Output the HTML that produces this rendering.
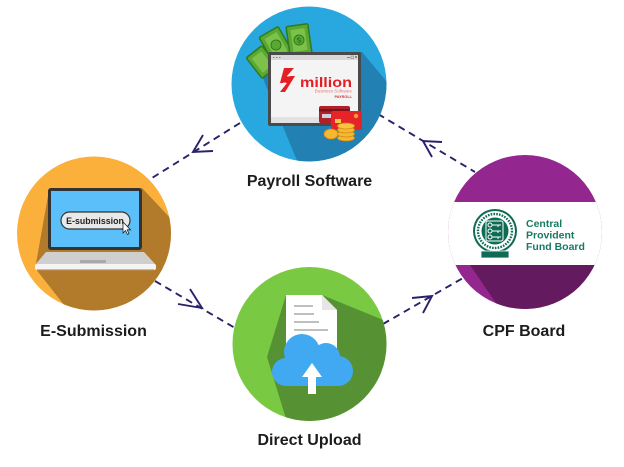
<!DOCTYPE html>
<html><head><meta charset="utf-8"><style>
html,body{margin:0;padding:0;background:#fff;}
svg{display:block;}
text{font-family:"Liberation Sans",Arial,sans-serif;}
</style></head><body>
<svg width="624" height="467" viewBox="0 0 624 467" xmlns="http://www.w3.org/2000/svg">
<defs>
<clipPath id="cP"><circle cx="309" cy="84" r="77.5"/></clipPath>
<clipPath id="cE"><circle cx="94" cy="233.5" r="77"/></clipPath>
<clipPath id="cC"><circle cx="525" cy="232" r="77"/></clipPath>
<clipPath id="cD"><circle cx="309.5" cy="344" r="77"/></clipPath>
</defs>

<!-- connectors -->
<g stroke="#27226b" stroke-width="1.9" fill="none" stroke-linecap="butt">
<line x1="240" y1="123" x2="152" y2="178" stroke-dasharray="7 5"/>
<polyline points="203,135 193,152 213,151" stroke-linejoin="miter"/>
<line x1="378" y1="114" x2="475" y2="172" stroke-dasharray="7 5"/>
<polyline points="442,142 423,141 432,157"/>
<line x1="155" y1="281" x2="235" y2="328" stroke-dasharray="7 5"/>
<polyline points="190,289 202,308 178,304"/>
<line x1="383" y1="324" x2="463" y2="278" stroke-dasharray="7 5"/>
<polyline points="412,298 432,296 423,313"/>
</g>

<!-- Payroll circle -->
<circle cx="309" cy="84" r="77.5" fill="#29a8df"/>
<g clip-path="url(#cP)">
<polygon points="252,52 362,52 392,88 392,175 303,175" fill="#2280b3"/>
</g>
<!-- bills -->
<g>
<g transform="translate(262,62) rotate(-38)">
<rect x="-10" y="-13" width="20" height="26" rx="1.5" fill="#5aa832" stroke="#2f7a1d" stroke-width="1.5"/>
<rect x="-6" y="-9" width="12" height="18" fill="#7cc24a"/>
</g>
<g transform="translate(276,45) rotate(-30)">
<rect x="-11" y="-15" width="22" height="30" rx="1.5" fill="#5aa832" stroke="#2f7a1d" stroke-width="1.5"/>
<rect x="-7" y="-11" width="14" height="22" fill="#7cc24a"/>
<circle cx="0" cy="0" r="5" fill="#5aa832" stroke="#2f7a1d" stroke-width="1"/>
</g>
<g transform="translate(299,40) rotate(-8)">
<rect x="-11" y="-15" width="22" height="30" rx="1.5" fill="#5aa832" stroke="#2f7a1d" stroke-width="1.5"/>
<rect x="-7" y="-11" width="14" height="22" fill="#7cc24a"/>
<circle cx="0" cy="0" r="5" fill="#5aa832" stroke="#2f7a1d" stroke-width="1"/>
<text x="0" y="3" font-size="8" font-weight="bold" fill="#2f7a1d" text-anchor="middle">$</text>
</g>
</g>
<!-- window -->
<rect x="268" y="52" width="93" height="74" rx="2" fill="#4a4a4a"/>
<rect x="271" y="55" width="87" height="68" fill="#f4f4f4"/>
<rect x="271" y="55" width="87" height="5" fill="#d9d9d9"/>
<g fill="#888"><rect x="273" y="57" width="1.5" height="1"/><rect x="276" y="57" width="1.5" height="1"/><rect x="279" y="57" width="1.5" height="1"/>
<rect x="347" y="57" width="3" height="1"/><rect x="351" y="56" width="2.5" height="2.5" fill="none" stroke="#888" stroke-width="0.6"/><rect x="355" y="56" width="2" height="2"/></g>
<rect x="271" y="117" width="87" height="6" fill="#e2e2e2"/>
<path d="M284,68 L294,68 L287,76 L295,76 L285,92 L280,92 L287,83 L280,83 Z" fill="#e31e24"/>
<path d="M287,76 L290,76 M283,83 L286,83" stroke="#fff" stroke-width="0.8"/>
<text x="300" y="87" font-size="14" font-weight="bold" fill="#e31e24" textLength="52" lengthAdjust="spacingAndGlyphs">million</text>
<text x="352" y="92.5" font-size="4.5" fill="#e87a7a" text-anchor="end">Business Software</text>
<text x="352" y="98" font-size="3.8" font-weight="bold" fill="#c53a3a" text-anchor="end">PAYROLL</text>
<!-- cards -->
<rect x="319" y="106" width="31" height="17" rx="2" fill="#b0202a"/>
<rect x="319" y="109" width="31" height="2.5" fill="#7a1218"/>
<rect x="322" y="114" width="12" height="4" fill="#c9d3e0"/>
<rect x="331" y="111" width="31" height="19" rx="2" fill="#e52329"/>
<rect x="335" y="119" width="6" height="4" fill="#f7c843"/>
<circle cx="356" cy="116" r="2.2" fill="#f7a030"/>
<!-- coins -->
<g stroke="#d08a16" stroke-width="0.8">
<ellipse cx="331" cy="134" rx="7" ry="5" fill="#f6b830"/>
<ellipse cx="346" cy="138" rx="8.5" ry="3" fill="#f6b830"/>
<ellipse cx="346" cy="134" rx="8.5" ry="3" fill="#f6b830"/>
<ellipse cx="346" cy="130" rx="8.5" ry="3" fill="#f6b830"/>
<ellipse cx="346" cy="126" rx="8.5" ry="3" fill="#f8c440"/>
</g>

<!-- E-Submission circle -->
<circle cx="94" cy="233.5" r="77" fill="#fbb03b"/>
<g clip-path="url(#cE)">
<polygon points="49,190 142,188 174,222 174,322 68,310 35,268 37,258" fill="#b27b2c"/>
</g>
<rect x="48" y="188" width="94" height="62" rx="3" fill="#333"/>
<rect x="51" y="191" width="88" height="56" fill="#5bc0fa"/>
<rect x="61" y="212" width="69" height="17" rx="8.5" fill="#e9e9e9" stroke="#333" stroke-width="1.2"/>
<text x="95" y="224" font-size="8.8" font-weight="bold" fill="#222" text-anchor="middle">E-submission</text>
<path d="M123,222 L123,233 L125.5,230.5 L127.5,234.5 L129,233.8 L127.2,229.8 L130.5,229.8 Z" fill="#fff" stroke="#222" stroke-width="0.8"/>
<polygon points="46,252 144,252 156,265 35,265" fill="#cfcfcf"/>
<rect x="80" y="260" width="26" height="3" fill="#aaa"/>
<rect x="35" y="264" width="121" height="6" rx="2" fill="#f5f5f5"/>
<rect x="37" y="269" width="117" height="1.2" fill="#cbb5b5"/>

<!-- CPF circle -->
<circle cx="525" cy="232" r="77" fill="#93278f"/>
<g clip-path="url(#cC)">
<polygon points="470,265 610,265 610,320 502,312" fill="#641a5f"/>
<rect x="440" y="202" width="175" height="63" fill="#fff"/>
</g>
<g>
<circle cx="495" cy="231" r="22" fill="#0e6b55"/>
<circle cx="495" cy="231" r="20" fill="#fff"/>
<circle cx="495" cy="231" r="17" fill="none" stroke="#0e6b55" stroke-width="2.4" stroke-dasharray="1.6 1.2"/>
<circle cx="495" cy="231" r="13.5" fill="#0e6b55"/>
<rect x="486" y="221" width="17" height="20" rx="2" fill="none" stroke="#fff" stroke-width="1"/>
<g fill="none" stroke="#fff" stroke-width="1">
<circle cx="490" cy="225" r="2"/><circle cx="490" cy="231" r="2"/><circle cx="490" cy="237" r="2"/>
<path d="M492,225 H501 M492,231 H501 M492,237 H501 M498,225 v2 M498,231 v2 M498,237 v2"/>
</g>
<rect x="481" y="251" width="28" height="7" fill="#0e6b55" stroke="#fff" stroke-width="0.8"/>
</g>
<g font-size="10.5" font-weight="bold" fill="#177a62">
<text x="526" y="227">Central</text>
<text x="526" y="238.5">Provident</text>
<text x="526" y="250">Fund Board</text>
</g>

<!-- Direct Upload circle -->
<circle cx="309.5" cy="344" r="77" fill="#7ac943"/>
<g clip-path="url(#cD)">
<polygon points="286,295 322,295 388,322 392,430 287,422 267,357" fill="#569133"/>
</g>
<polygon points="286,295 322,295 337,310 337,355 286,355" fill="#fff"/>
<polygon points="322,295 322,310 337,310" fill="#e6e6e6"/>
<g stroke="#999" stroke-width="1.3">
<line x1="294" y1="306" x2="313" y2="306"/>
<line x1="294" y1="314" x2="314" y2="314"/>
<line x1="294" y1="322" x2="319" y2="322"/>
<line x1="294" y1="330" x2="328" y2="330"/>
</g>
<g fill="#41a9f2">
<circle cx="302" cy="352" r="18"/>
<circle cx="326" cy="357" r="14"/>
<circle cx="286" cy="372" r="14"/>
<circle cx="338" cy="371" r="15"/>
<rect x="286" y="358" width="52" height="28"/>
</g>
<polygon points="312,363 322,377 316,377 316,394 308,394 308,377 302,377" fill="#fff"/>

<!-- labels -->
<g font-size="16" font-weight="bold" fill="#1c1c1c" text-anchor="middle">
<text x="309.5" y="186">Payroll Software</text>
<text x="93.5" y="336">E-Submission</text>
<text x="524" y="336">CPF Board</text>
<text x="309.5" y="445">Direct Upload</text>
</g>
</svg>
</body></html>
